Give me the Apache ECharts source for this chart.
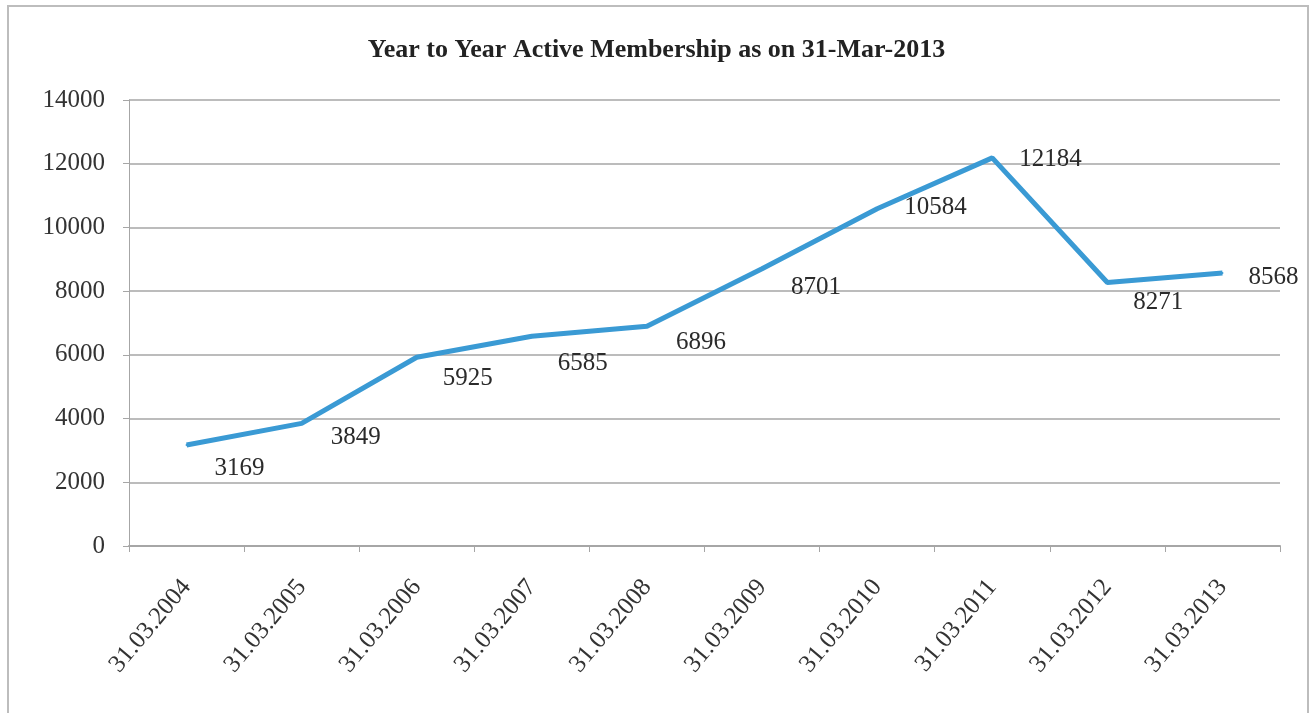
<!DOCTYPE html>
<html>
<head>
<meta charset="utf-8">
<script src="https://cdn.jsdelivr.net/npm/echarts@6/dist/echarts.min.js"></script>
<style>
  html, body { margin: 0; padding: 0; background: #fff; }
  #frame { position: absolute; left: 7px; top: 5px; width: 1302px; height: 712px; border: 2px solid #bdbdbd; box-sizing: border-box; }
  #chart { position: absolute; left: 0; top: 0; width: 1313px; height: 713px; }
</style>
</head>
<body>
<div id="frame"></div>
<div id="chart"></div>
<script>
// Active membership counted on 31 March each year
const categories = ['31.03.2004', '31.03.2005', '31.03.2006', '31.03.2007', '31.03.2008',
                    '31.03.2009', '31.03.2010', '31.03.2011', '31.03.2012', '31.03.2013'];
const members = [3169, 3849, 5925, 6585, 6896, 8701, 10584, 12184, 8271, 8568];
const titleText = 'Year to Year Active Membership as on 31-Mar-2013';

// Where each value label sits relative to its point (dx, dy in pixels)
const labelShift = [[27, 23], [28, 14], [25, 21], [25, 27], [28, 16],
                    [28, 19], [26, -1], [26, 2], [25, 20], [25, 4]];

const serif = '"Liberation Serif", "DejaVu Serif", serif';
const lineColor = '#3a9ad4';

const chart = echarts.init(document.getElementById('chart'), null, { renderer: 'canvas' });
chart.setOption({
  animation: false,
  backgroundColor: 'transparent',
  title: {
    text: titleText,
    left: 'center',
    top: 32,
    textStyle: { fontFamily: serif, fontSize: 26, fontWeight: 'bold', color: '#222' }
  },
  grid: { left: 129, right: 33, top: 100, bottom: 167, containLabel: false },
  xAxis: {
    type: 'category',
    data: categories,
    boundaryGap: true,
    axisLine: { lineStyle: { color: '#a6a6a6', width: 2 } },
    axisTick: { show: true, alignWithLabel: false, length: 6, lineStyle: { color: '#a6a6a6', width: 1 } },
    axisLabel: {
      rotate: 50, interval: 0, margin: 37,
      fontFamily: serif, fontSize: 25, color: '#333'
    }
  },
  yAxis: {
    type: 'value',
    min: 0, max: 14000, interval: 2000,
    axisLine: { show: true, lineStyle: { color: '#a6a6a6', width: 1 } },
    axisTick: { show: true, inside: false, length: 6, lineStyle: { color: '#a6a6a6' } },
    axisLabel: {
      fontFamily: serif, fontSize: 25, color: '#333', margin: 24,
      formatter: (v) => String(v)
    },
    splitLine: { show: true, lineStyle: { color: '#a6a6a6', width: 1.5 } }
  },
  series: [{
    type: 'line',
    data: members,
    symbol: 'circle',
    symbolSize: 2,
    showSymbol: true,
    itemStyle: { color: lineColor },
    lineStyle: { color: lineColor, width: 5 },
    labelLayout: (params) => ({
      dx: labelShift[params.dataIndex][0],
      dy: labelShift[params.dataIndex][1],
      hideOverlap: false
    }),
    label: {
      show: true,
      position: 'right',
      distance: 0,
      align: 'left',
      verticalAlign: 'middle',
      fontFamily: serif, fontSize: 25, color: '#2b2b2b'
    }
  }]
});
</script>
</body>
</html>
